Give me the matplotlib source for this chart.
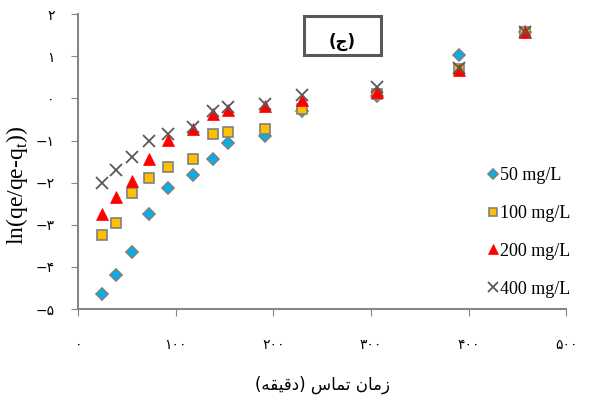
import matplotlib.pyplot as plt
from matplotlib.patches import Rectangle

# contact time (min)
times = [24, 39, 55, 72, 92, 118, 138, 153, 191, 229, 306, 390, 458]

c50 = [-4.63, -4.20, -3.64, -2.74, -2.12, -1.81, -1.43, -1.05, -0.90, -0.30, 0.05, 1.02, 1.57]
c100 = [-3.24, -2.95, -2.24, -1.88, -1.63, -1.43, -0.84, -0.80, -0.72, -0.25, 0.11, 0.69, 1.57]
c200 = [-2.74, -2.34, -1.96, -1.45, -0.98, -0.72, -0.38, -0.27, -0.19, -0.03, 0.15, 0.67, 1.57]
c400 = [-2.01, -1.69, -1.40, -1.02, -0.84, -0.67, -0.30, -0.21, -0.13, 0.07, 0.27, 0.71, 1.57]

labels = ["50 mg/L", "100 mg/L", "200 mg/L", "400 mg/L"]

fa = "\u06f0\u06f1\u06f2\u06f3\u06f4\u06f5\u06f6\u06f7\u06f8\u06f9"


def fa_num(v):
    s = str(abs(int(v))).translate(str.maketrans("0123456789", fa))
    return ("\u2212" + s) if v < 0 else s


xticks = [0, 100, 200, 300, 400, 500]
yticks = [2, 1, 0, -1, -2, -3, -4, -5]

# "زمان تماس (دقیقه)" shaped and in visual order
xlabel = "(\ufeea\ufed8\ufef4\ufed7\ufea9) \ufeb1\ufe8e\ufee4\ufe97 \ufee5\ufe8e\ufee3\ufeaf"
panel = "(\ufe9d)"

fig = plt.figure(figsize=(6.12, 4.03), dpi=100)
ax = fig.add_axes([0.128, 0.233, 0.797, 0.732])

ax.plot(times, c50, 'D', ms=6.5, mfc='#00B0F0', mec='#808080', mew=1.2, label=labels[0], linestyle='none')
ax.plot(times, c100, 's', ms=7.5, mfc='#FFC000', mec='#808080', mew=1.2, label=labels[1], linestyle='none')
ax.plot(times, c200, '^', ms=8.5, mfc='#FF0000', mec='#FF0000', mew=0.5, label=labels[2], linestyle='none')
ax.plot(times, c400, 'x', ms=8, mec='#595959', mew=1.3, label=labels[3], linestyle='none')

ax.set_xlim(0, 500)
ax.set_ylim(-5, 2)
ax.set_xticks(xticks)
ax.set_xticklabels([fa_num(v) for v in xticks], fontsize=10, family='DejaVu Sans')
ax.set_yticks(yticks)
ax.set_yticklabels([fa_num(v) for v in yticks], fontsize=10, family='DejaVu Sans')
ax.tick_params(axis='x', direction='out', length=5, color='#868686', pad=16)
ax.tick_params(axis='y', direction='out', length=5, color='#868686', pad=12)

for s in ['top', 'right']:
    ax.spines[s].set_visible(False)
for s in ['left', 'bottom']:
    ax.spines[s].set_color('#868686')
    ax.spines[s].set_linewidth(1.5)

ax.set_xlabel(xlabel, fontsize=12, family='DejaVu Sans', labelpad=17)
ax.set_ylabel("ln(qe/qe-q$_\\mathregular{t}$))", fontsize=17, family='Liberation Serif')
ax.yaxis.set_label_coords(-0.1, 0.42)

leg = ax.legend(loc='center left', bbox_to_anchor=(0.82, 0.26), frameon=False,
                prop={'family': 'Liberation Serif', 'size': 13}, markerscale=0.85,
                handlelength=0.6, handletextpad=0.1, labelspacing=1.15, borderpad=0)

box = Rectangle((0.497, 0.8635), 0.126, 0.097, transform=fig.transFigure,
                fill=False, edgecolor='#595959', linewidth=2.2)
fig.patches.append(box)
fig.text(0.559, 0.896, panel, ha='center', va='center', fontsize=12,
         fontweight='bold', family='DejaVu Sans')

fig.savefig("out.png", dpi=100)
